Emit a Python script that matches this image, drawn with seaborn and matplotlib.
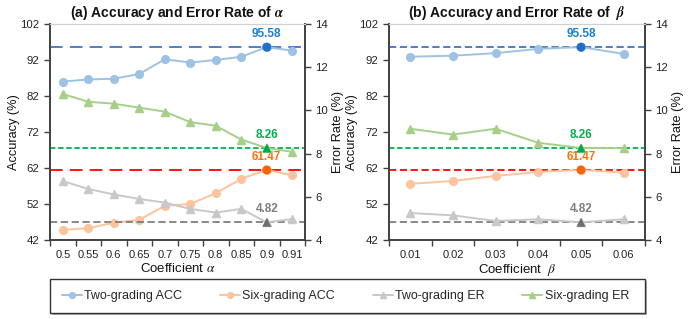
import matplotlib
matplotlib.use('Agg')
import matplotlib.pyplot as plt
import seaborn as sns
from matplotlib.patches import Rectangle
from matplotlib.ticker import FixedLocator

# ---------------- data ----------------
alpha_labels = ['0.5', '0.55', '0.6', '0.65', '0.7', '0.75', '0.8', '0.85', '0.9', '0.91']
alpha_two_acc = [86.0, 86.6, 86.8, 88.1, 92.2, 91.3, 92.0, 92.9, 95.58, 94.6]
alpha_six_acc = [44.8, 45.3, 46.8, 47.6, 51.5, 52.0, 55.0, 59.0, 61.47, 60.0]
alpha_two_er = [6.73, 6.36, 6.11, 5.90, 5.73, 5.44, 5.27, 5.44, 4.82, 4.97]
alpha_six_er = [10.76, 10.40, 10.31, 10.13, 9.94, 9.46, 9.29, 8.65, 8.26, 8.08]
alpha_best = '0.9'

beta_labels = ['0.01', '0.02', '0.03', '0.04', '0.05', '0.06']
beta_two_acc = [92.9, 93.2, 93.9, 95.1, 95.58, 93.7]
beta_six_acc = [57.6, 58.4, 59.8, 60.9, 61.47, 60.7]
beta_two_er = [5.25, 5.14, 4.88, 4.96, 4.82, 4.96]
beta_six_er = [9.15, 8.88, 9.15, 8.50, 8.26, 8.25]
beta_best = '0.05'

series_names = ['Two-grading ACC', 'Six-grading ACC', 'Two-grading ER', 'Six-grading ER']
acc_ticks = [42, 52, 62, 72, 82, 92, 102]
er_ticks = [4, 6, 8, 10, 12, 14]

# ---------------- style ----------------
sns.set_theme(style='white')
plt.rcParams['font.family'] = ['Liberation Sans', 'DejaVu Sans']
plt.rcParams['mathtext.fontset'] = 'stix'

line_cols = ['#9ec2e4', '#fdc39c', '#c8c8c8', '#a6d08a']
best_cols = ['#1f6fc6', '#f8640c', '#6e6e6e', '#00a94a']
text_cols = ['#1a7fd6', '#f8740f', '#7f7f7f', '#00b050']
ref_cols = ['#4472c4', '#ff0000', '#7f7f7f', '#00b050']
markers = ['o', 'o', '^', '^']
spine_col = '#404040'

fig = plt.figure(figsize=(7.0, 3.19), dpi=100)

panels = [
    dict(rect=[50/700, 1-240/319, 255/700, 216/319], labels=alpha_labels, best=alpha_best,
         data=[alpha_two_acc, alpha_six_acc, alpha_two_er, alpha_six_er],
         title=r'(a) Accuracy and Error Rate of $\boldsymbol{\alpha}$',
         xlabel=r'Coefficient $\alpha$', ylpad=0,
         dashes=[(7, 4), (7, 4), (4, 2), (3, 1.5)]),
    dict(rect=[389/700, 1-240/319, 256/700, 216/319], labels=beta_labels, best=beta_best,
         data=[beta_two_acc, beta_six_acc, beta_two_er, beta_six_er],
         title=r'(b) Accuracy and Error Rate of  $\boldsymbol{\beta}$',
         xlabel=r'Coefficient  $\beta$', ylpad=1,
         dashes=[(4, 2), (4, 2), (4, 2), (3, 1.5)]),
]

leg_h, leg_l = None, None
for pi, p in enumerate(panels):
    ax = fig.add_axes(p['rect'])
    ax2 = ax.twinx()
    n = len(p['labels'])
    bi = p['labels'].index(p['best'])
    axes_for = [ax, ax, ax2, ax2]
    for si in range(4):
        a = axes_for[si]
        vals = p['data'][si]
        sns.pointplot(x=p['labels'], y=vals, ax=a, color=line_cols[si],
                      markers=markers[si], linestyles='-', errorbar=None,
                      markersize=5.5, linewidth=1.4, label=series_names[si])
        bv = vals[bi]
        a.axhline(bv, color=ref_cols[si], lw=1.3, dashes=p['dashes'][si], zorder=1)
        sns.scatterplot(x=[bi], y=[bv], ax=a, color=best_cols[si], marker=markers[si],
                        s=42, edgecolor='none', zorder=5, legend=False)
        a.annotate(f'{bv:.2f}', (bi, bv), xytext=(0, 5), textcoords='offset points',
                   ha='center', va='bottom', fontsize=8.5, fontweight='bold',
                   color=text_cols[si], zorder=6)

    for a in (ax, ax2):
        a.set_xlim(-0.5, n - 0.5)
    ax.set_ylim(42, 102)
    ax.set_yticks(acc_ticks)
    ax2.set_ylim(4, 14)
    ax2.set_yticks(er_ticks)
    ax.set_xticks(range(n))
    ax.set_xticklabels(p['labels'])
    ax.xaxis.set_minor_locator(FixedLocator([i - 0.5 for i in range(n + 1)]))
    ax.tick_params(axis='x', which='major', length=0, labelsize=8, pad=7, colors='#222222')
    ax.tick_params(axis='x', which='minor', length=4, width=1, color=spine_col, direction='out', bottom=True)
    ax.tick_params(axis='y', length=4, width=1, color=spine_col, direction='out', left=True,
                   labelsize=8.2, colors='#222222')
    ax2.tick_params(axis='y', length=4, width=1, color=spine_col, direction='out', right=True,
                    labelsize=8.2, colors='#222222')
    ax.set_ylabel('Accuracy (%)', fontsize=9.2, color='#111111', labelpad=p['ylpad'])
    ax2.set_ylabel('Error Rate (%)', fontsize=9.2, color='#111111', labelpad=3)
    ax.set_xlabel(p['xlabel'], fontsize=9.5, color='#111111', labelpad=2)
    ax.set_title(p['title'], fontsize=10, fontweight='bold', pad=5, color='#111111')
    for a in (ax, ax2):
        for side in ('left', 'right', 'bottom'):
            a.spines[side].set_color(spine_col)
            a.spines[side].set_linewidth(1.2)
        a.spines['top'].set_color('#d0d0d0')
        a.spines['top'].set_linewidth(0.8)
        a.grid(False)
        leg = a.get_legend()
        if leg is not None:
            leg.remove()
    if pi == 0:
        h1, l1 = ax.get_legend_handles_labels()
        h2, l2 = ax2.get_legend_handles_labels()
        leg_h = h1 + h2
        leg_l = l1 + l2

# legend frame with shadow
fx0, fy0, fw, fh = 50/700, 1-313/319, 595/700, 34/319
shadow = Rectangle((fx0 + 2/700, fy0 - 2/319), fw, fh, transform=fig.transFigure,
                   facecolor='#b0b0b0', edgecolor='none', zorder=0)
frame = Rectangle((fx0, fy0), fw, fh, transform=fig.transFigure,
                  facecolor='white', edgecolor='#333333', lw=1.0, zorder=1)
fig.patches.extend([shadow, frame])
fig.legend(leg_h, leg_l, loc='center', bbox_to_anchor=(fx0 + fw/2 - 2/700, fy0 + fh/2),
           ncol=4, frameon=False, fontsize=9, handlelength=1.6, handletextpad=0.2,
           columnspacing=3.0, markerscale=0.75)

fig.savefig('out.png', dpi=100)
